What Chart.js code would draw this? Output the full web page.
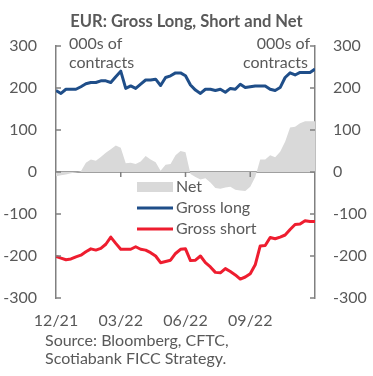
<!DOCTYPE html>
<html>
<head>
<meta charset="utf-8">
<script src="https://cdn.jsdelivr.net/npm/chart.js@4.4.0/dist/chart.umd.min.js"></script>
<style>
  body { margin: 0; background: #fff; font-family: Lato, sans-serif; }
  #wrap { position: relative; width: 373px; height: 376px; }
  #title { position: absolute; left: 0; width: 373px; top: 11px; text-align: center;
           font-weight: bold; font-size: 16.5px; color: #595959; }
  #source { position: absolute; left: 45px; top: 331px; font-size: 16px; line-height: 18px; color: #595959; }
</style>
</head>
<body>
<div id="wrap">
  <canvas id="chart" width="373" height="376"></canvas>
  <div id="title">EUR: Gross Long, Short and Net</div>
  <div id="source">Source: Bloomberg, CFTC,<br>Scotiabank FICC Strategy.</div>
</div>
<script>
// weekly COT positioning, 000s of contracts (Dec-21 .. Dec-22)
const xLabels = ["12/21", "03/22", "06/22", "09/22"];
const yTicks = [-300, -200, -100, 0, 100, 200, 300];

const grossLong = [194, 187, 197, 197, 197, 203, 210, 213, 213, 217, 217, 213, 227, 240,
  199, 205, 199, 209, 219, 219, 221, 206, 225, 229, 236, 236, 229, 207, 195, 187,
  197, 197, 194, 197, 190, 199, 197, 209, 201, 203, 205, 205, 205, 197, 194, 201,
  225, 236, 231, 237, 237, 237, 245];

const grossShort = [-201, -205, -209, -207, -202, -198, -190, -183, -186, -182, -172, -155, -170, -184,
  -184, -184, -178, -184, -186, -192, -200, -216, -213, -210, -194, -184, -183, -211, -210, -200,
  -216, -226, -239, -240, -230, -237, -245, -255, -250, -242, -221, -176, -175, -156, -159, -155,
  -150, -137, -125, -124, -116, -118, -118];

const net = [-10, -8, -6, -3, -1, 2, 22, 30, 27, 36, 46, 54, 63, 58,
  21, 22, 19, 25, 38, 30, 23, 3, 17, 19, 40, 50, 47, -5, -12, -18,
  -15, -25, -38, -40, -37, -35, -42, -44, -45, -35, -12, 30, 30, 40, 35, 48,
  72, 106, 108, 116, 121, 121, 121];

const GREY_TXT = "#595959";
const AXIS = "#808080";
const pts = arr => arr.map((v, i) => ({ x: i, y: v }));

// axis lines, inward tick marks, zero line, legend and unit notes
const decor = {
  id: "decor",
  beforeDatasetsDraw(chart) {
    const { ctx, chartArea: a, scales } = chart;
    const y0 = scales.y.getPixelForValue(0);
    ctx.save();
    ctx.strokeStyle = AXIS;
    ctx.lineWidth = 1.5;
    ctx.beginPath();
    ctx.moveTo(a.left, y0); ctx.lineTo(a.right, y0);
    ctx.stroke();
    ctx.restore();
  },
  afterDatasetsDraw(chart) {
    const { ctx, chartArea: a, scales } = chart;
    const y0 = scales.y.getPixelForValue(0);
    ctx.save();
    ctx.strokeStyle = AXIS;
    ctx.lineWidth = 1.5;
    ctx.beginPath();
    yTicks.forEach(v => {
      const py = scales.y.getPixelForValue(v);
      ctx.moveTo(a.left, py); ctx.lineTo(a.left + 5, py);
      ctx.moveTo(a.right, py); ctx.lineTo(a.right - 5, py);
    });
    [13, 26, 39].forEach(v => {
      const px = scales.x.getPixelForValue(v);
      ctx.moveTo(px, y0); ctx.lineTo(px, y0 + 5);
    });
    ctx.stroke();

    // legend
    const ds = chart.data.datasets;
    ctx.font = "16px Lato";
    ctx.textBaseline = "middle";
    ctx.fillStyle = ds[0].backgroundColor;
    ctx.fillRect(137, 182, 36, 10);
    ctx.lineWidth = 3;
    ctx.strokeStyle = ds[1].borderColor;
    ctx.beginPath(); ctx.moveTo(137, 208); ctx.lineTo(173, 208); ctx.stroke();
    ctx.strokeStyle = ds[2].borderColor;
    ctx.beginPath(); ctx.moveTo(137, 229); ctx.lineTo(173, 229); ctx.stroke();
    ctx.fillStyle = GREY_TXT;
    ctx.fillText(ds[0].label, 176, 187);
    ctx.fillText(ds[1].label, 176, 208);
    ctx.fillText(ds[2].label, 176, 229);

    // units
    ctx.textAlign = "left";
    ctx.fillText("000s of", 69, 44);
    ctx.fillText("contracts", 69, 63);
    ctx.textAlign = "right";
    ctx.fillText("000s of", 310, 44);
    ctx.fillText("contracts", 308, 63);
    ctx.restore();
  }
};

new Chart(document.getElementById("chart"), {
  type: "line",
  data: {
    datasets: [
      { label: "Net", data: pts(net), fill: "origin", backgroundColor: "#d9d9d9",
        borderWidth: 0, pointRadius: 0, order: 3 },
      { label: "Gross long", data: pts(grossLong), borderColor: "#1f4e89", borderWidth: 3,
        pointRadius: 0, fill: false, order: 2 },
      { label: "Gross short", data: pts(grossShort), borderColor: "#ee1d2f", borderWidth: 3,
        pointRadius: 0, fill: false, order: 1 }
    ]
  },
  options: {
    responsive: false,
    animation: false,
    layout: { padding: { top: 46, left: 0, right: 0, bottom: 0 } },
    plugins: { legend: { display: false }, title: { display: false }, tooltip: { enabled: false } },
    elements: { line: { tension: 0, borderJoinStyle: "round" } },
    scales: {
      x: {
        type: "linear", min: 0, max: 52,
        grid: { display: false, drawTicks: false },
        border: { display: false },
        ticks: {
          stepSize: 13, padding: 13, maxRotation: 0, autoSkip: false,
          color: GREY_TXT, font: { family: "Lato", size: 16 },
          callback: v => xLabels[v / 13] || ""
        },
        afterFit: s => { s.height = 78; }
      },
      y: {
        position: "left", min: -300, max: 300,
        grid: { display: false, drawTicks: false },
        border: { display: true, color: AXIS, width: 1.5 },
        ticks: { stepSize: 100, padding: 19, color: GREY_TXT, font: { family: "Lato", size: 16 } },
        afterFit: s => { s.width = 56; }
      },
      y2: {
        position: "right", min: -300, max: 300,
        grid: { display: false, drawTicks: false },
        border: { display: true, color: AXIS, width: 1.5 },
        ticks: { stepSize: 100, padding: 18, color: GREY_TXT, font: { family: "Lato", size: 16 } },
        afterFit: s => { s.width = 58; }
      }
    }
  },
  plugins: [decor]
});
</script>
</body>
</html>
